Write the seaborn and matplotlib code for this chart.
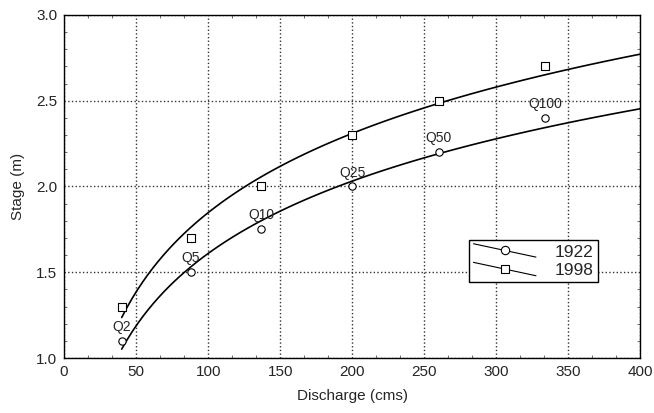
import numpy as np
import pandas as pd
import seaborn as sns
import matplotlib.pyplot as plt
from matplotlib.ticker import MultipleLocator
from matplotlib.legend_handler import HandlerBase
from matplotlib.lines import Line2D

# flood quantiles
labels = ['Q2', 'Q5', 'Q10', 'Q25', 'Q50', 'Q100']
discharge = [40, 88, 137, 200, 260, 334]
stage_1922 = [1.1, 1.5, 1.75, 2.0, 2.2, 2.4]
stage_1998 = [1.3, 1.7, 2.0, 2.3, 2.5, 2.7]

data = pd.DataFrame({'discharge': discharge * 2,
                     'stage': stage_1922 + stage_1998,
                     'year': ['1922'] * 6 + ['1998'] * 6})

sns.set_style('ticks')
plt.rcParams['font.family'] = ['Liberation Sans', 'DejaVu Sans']

fig, ax = plt.subplots(figsize=(6.54, 4.13), dpi=100)
fig.subplots_adjust(left=0.098, right=0.979, top=0.964, bottom=0.133)

markers = {'1922': 'o', '1998': 's'}
handles = []
ax.set_xlim(40, 400)
for year, grp in data.groupby('year'):
    # log fit of stage on discharge, drawn out to x = 400
    sns.regplot(data=grp, x='discharge', y='stage', logx=True, ci=None,
                truncate=False, scatter=False, ax=ax,
                line_kws={'color': 'black', 'lw': 1.2})
    sns.scatterplot(data=grp, x='discharge', y='stage', marker=markers[year],
                    s=28, facecolor='white', edgecolor='black', linewidth=0.8,
                    ax=ax, zorder=3)
    h, = ax.plot([], [], color='black', lw=0.8, marker=markers[year],
                 markersize=6, markerfacecolor='white', markeredgecolor='black',
                 label=year)
    handles.append(h)

for lab, x, y in zip(labels, discharge, stage_1922):
    ax.annotate(lab, (x, y), xytext=(0, 5), textcoords='offset points',
                ha='center', va='bottom', fontsize=10)

ax.set_xlim(0, 400)
ax.set_ylim(1.0, 3.0)
ax.xaxis.set_major_locator(MultipleLocator(50))
ax.xaxis.set_minor_locator(MultipleLocator(50 / 3))
ax.yaxis.set_major_locator(MultipleLocator(0.5))
ax.yaxis.set_minor_locator(MultipleLocator(0.1))
ax.yaxis.set_major_formatter(plt.FormatStrFormatter('%.1f'))
ax.tick_params(which='both', direction='in', top=True, right=True,
               labelsize=11, color='#555555')
ax.tick_params(which='major', length=0, pad=5)
ax.tick_params(which='minor', length=2.5, width=0.6)
ax.grid(True, which='major', linestyle=':', color='#333333', linewidth=1.0)
for s in ax.spines.values():
    s.set_linewidth(1.0)
    s.set_color('black')

ax.set_xlabel('Discharge (cms)', fontsize=11, labelpad=7)
ax.set_ylabel('Stage (m)', fontsize=11, labelpad=8)


class SlantHandler(HandlerBase):
    # legend key: a line sloping down with the marker in the middle
    def create_artists(self, legend, orig_handle, xdescent, ydescent,
                       width, height, fontsize, trans):
        x0, x1 = -xdescent, -xdescent + width
        yc = -ydescent + height / 2
        line = Line2D([x0, x1], [yc + height * 0.55, yc - height * 0.55],
                      color='black', lw=0.8, transform=trans)
        mark = Line2D([(x0 + x1) / 2], [yc], linestyle='none',
                      marker=orig_handle.get_marker(), markersize=6,
                      markerfacecolor='white', markeredgecolor='black',
                      markeredgewidth=0.8, transform=trans)
        return [line, mark]


leg = ax.legend(handles=handles, loc='upper left',
                bbox_to_anchor=(0.703, 0.344), fontsize=12.5, frameon=True,
                fancybox=False, edgecolor='black', framealpha=1,
                handler_map={Line2D: SlantHandler()},
                handlelength=3.6, handletextpad=1.1, borderpad=0.25,
                labelspacing=0.2, borderaxespad=0)
leg.get_frame().set_linewidth(1.0)

fig.savefig('out.png', dpi=100)
